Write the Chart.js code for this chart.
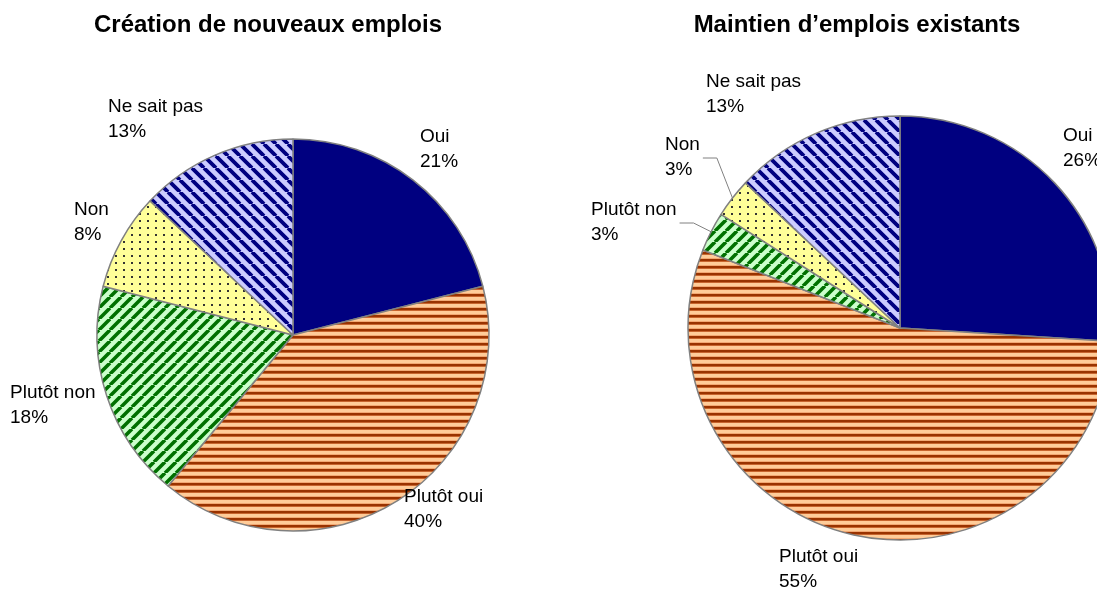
<!DOCTYPE html>
<html>
<head>
<meta charset="utf-8">
<script src="https://cdn.jsdelivr.net/npm/chart.js@4/dist/chart.umd.min.js"></script>
<style>
  html, body { margin: 0; padding: 0; background: #fff; overflow: hidden; }
  canvas { position: absolute; left: 0; top: 0; }
</style>
</head>
<body>
<canvas id="creationChart" width="1097" height="589"></canvas>
<canvas id="maintienChart" width="1097" height="589"></canvas>
<script>
// data
var categories = ['Oui', 'Plutôt oui', 'Plutôt non', 'Non', 'Ne sait pas'];
var creationValues = [21, 40, 18, 8, 13];
var maintienValues = [26, 55, 3, 3, 13];
var chartTitles = ['Création de nouveaux emplois', 'Maintien d’emplois existants'];

// label placement, relative to pie centre (x of text, y of first line)
var creationLabelPos = [[127, -198], [111, 162], [-283, 58], [-219, -125], [-185, -228]];
var maintienLabelPos = [[163, -192], [-121, 229], [-309, -118], [-235, -183], [-194, -246]];
var maintienLeaders = [false, false, true, true, false];

function tile(w, h) {
    var c = document.createElement('canvas');
    c.width = w; c.height = h;
    return c;
}

function hStripes() {
    var c = tile(7, 7), g = c.getContext('2d');
    g.fillStyle = '#FFCC99'; g.fillRect(0, 0, 7, 7);
    g.fillStyle = '#993300'; g.fillRect(0, 0, 7, 2);
    g.fillStyle = '#C8652E'; g.fillRect(0, 2, 7, 1);
    g.fillStyle = '#F2A873'; g.fillRect(0, 6, 7, 1);
    return g.createPattern(c, 'repeat');
}

function diagStripes(up, dark, light, size, lw) {
    var c = tile(size, size), g = c.getContext('2d');
    g.fillStyle = light; g.fillRect(0, 0, size, size);
    g.strokeStyle = dark; g.lineWidth = lw;
    g.beginPath();
    for (var k = -1; k <= 1; k++) {
        if (up) { g.moveTo(k * size, size); g.lineTo(k * size + size, 0); }
        else { g.moveTo(k * size, 0); g.lineTo(k * size + size, size); }
    }
    g.stroke();
    return g.createPattern(c, 'repeat');
}

function dots() {
    var c = tile(8, 7), g = c.getContext('2d');
    g.fillStyle = '#FFFF99'; g.fillRect(0, 0, 8, 7);
    g.fillStyle = '#333333'; g.fillRect(3, 3, 2, 2);
    return g.createPattern(c, 'repeat');
}

var sliceFills = [
    '#000080',
    hStripes(),
    diagStripes(true, '#007000', '#CCFFCC', 11, 3.6),
    dots(),
    diagStripes(false, '#000080', '#CCCCFF', 12, 3.8)
];

var pieLabels = {
    id: 'pieLabels',
    afterDraw: function(chart, args, opts) {
        var ctx = chart.ctx;
        var meta = chart.getDatasetMeta(0);
        var ds = chart.data.datasets[0];
        ctx.save();
        // title
        ctx.font = 'bold 24px "Liberation Sans", Arial, sans-serif';
        ctx.fillStyle = '#000';
        ctx.textAlign = 'center';
        ctx.textBaseline = 'alphabetic';
        ctx.fillText(opts.title, opts.titleX, 32);

        ctx.font = '19px "Liberation Sans", Arial, sans-serif';
        ctx.textAlign = 'left';
        ctx.textBaseline = 'middle';
        meta.data.forEach(function(arc, i) {
            var p = opts.positions[i];
            var lx = arc.x + p[0], ly = arc.y + p[1];
            var pct = ds.data[i] + '%';
            ctx.fillStyle = '#000';
            ctx.fillText(chart.data.labels[i], lx, ly);
            ctx.fillText(pct, lx, ly + 24.5);
            if (opts.leaders && opts.leaders[i]) {
                var w = Math.max(ctx.measureText(chart.data.labels[i]).width, ctx.measureText(pct).width);
                var mid = (arc.startAngle + arc.endAngle) / 2;
                var ex = arc.x + Math.cos(mid) * arc.outerRadius;
                var ey = arc.y + Math.sin(mid) * arc.outerRadius;
                var sx = lx + w + 3, sy = ly + 13;
                ctx.strokeStyle = '#808080';
                ctx.lineWidth = 1;
                ctx.beginPath();
                ctx.moveTo(sx, sy);
                ctx.lineTo(sx + 14, sy);
                ctx.lineTo(ex, ey);
                ctx.stroke();
            }
        });
        ctx.restore();
    }
};

function makePie(id, values, radius, padding, title, titleX, positions, leaders) {
    return new Chart(document.getElementById(id).getContext('2d'), {
        type: 'pie',
        data: {
            labels: categories,
            datasets: [{
                data: values,
                backgroundColor: sliceFills,
                borderColor: '#808080',
                borderWidth: 1.5,
                clip: false
            }]
        },
        options: {
            responsive: false,
            animation: false,
            devicePixelRatio: 1,
            radius: radius,
            layout: { padding: padding },
            events: [],
            plugins: {
                legend: { display: false },
                tooltip: { enabled: false },
                pieLabels: { title: title, titleX: titleX, positions: positions, leaders: leaders }
            }
        },
        plugins: [pieLabels]
    });
}

makePie('creationChart', creationValues, 196,
    { left: 0, right: 511, top: 81, bottom: 0 },
    chartTitles[0], 268, creationLabelPos, null);
makePie('maintienChart', maintienValues, 212,
    { left: 711, right: 8, top: 67, bottom: 0 },
    chartTitles[1], 857, maintienLabelPos, maintienLeaders);
</script>
</body>
</html>
